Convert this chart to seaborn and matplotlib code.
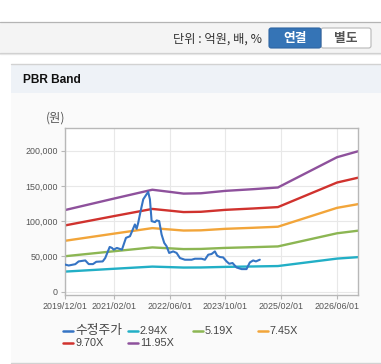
import matplotlib
matplotlib.use("Agg")
import matplotlib.pyplot as plt
import matplotlib.dates as mdates
from matplotlib.patches import Rectangle, FancyBboxPatch
from matplotlib.lines import Line2D
import seaborn as sns
import pandas as pd

# ---------------- data ----------------
band_dates = ["2019-12-01", "2021-02-01", "2022-01-01", "2022-06-01", "2022-10-01",
              "2023-03-01", "2023-10-01", "2024-06-01", "2025-01-01", "2026-06-01", "2026-12-01"]
band_294 = [28465, 32475, 35550, 34813, 34198, 34322, 35156, 35747, 36338, 46893, 48960]
band_519 = [50250, 57330, 62760, 61455, 60370, 60590, 62060, 63105, 64150, 82780, 86430]
band_745 = [72130, 82290, 90090, 88215, 86660, 86970, 89090, 90585, 92080, 118830, 124065]
band_970 = [93915, 107145, 117290, 114860, 112830, 113240, 115990, 117940, 119890, 154715, 161535]
band_1195 = [115700, 132000, 144500, 141500, 139000, 139500, 142900, 145300, 147700, 190600, 199000]

price_dates = ["2019-12-01", "2020-01-02", "2020-02-29", "2020-03-29", "2020-05-26", "2020-06-25",
               "2020-08-01", "2020-08-30", "2020-10-25", "2020-11-16", "2020-12-25", "2021-01-14",
               "2021-01-29", "2021-02-26", "2021-04-11", "2021-05-16", "2021-06-20", "2021-08-02",
               "2021-08-17", "2021-08-31", "2021-09-21", "2021-10-14", "2021-11-12", "2021-11-26",
               "2021-12-11", "2021-12-26", "2022-01-24", "2022-02-08", "2022-03-02", "2022-03-23",
               "2022-04-15", "2022-05-06", "2022-05-28", "2022-07-02", "2022-08-01", "2022-08-30",
               "2022-10-12", "2022-12-10", "2023-01-08", "2023-03-07", "2023-04-05", "2023-05-04",
               "2023-06-02", "2023-07-01", "2023-07-21", "2023-08-14", "2023-09-11", "2023-10-11",
               "2023-11-03", "2023-12-02", "2024-01-06", "2024-02-19", "2024-04-02", "2024-05-01",
               "2024-05-30", "2024-06-23", "2024-07-27"]
price = [38500, 37100, 39000, 42900, 44300, 39100,
         39100, 42400, 42900, 47700, 63400, 62000,
         59600, 62000, 59600, 76300, 78600, 95300,
         89100, 97700, 114300, 131000, 138100, 141400,
         131000, 100000, 98600, 101000, 100000, 81000,
         69100, 64300, 54900, 57100, 54900, 47700,
         45300, 45300, 46700, 46700, 45300, 52400,
         53400, 57100, 51000, 49100, 48600, 42900,
         39600, 40600, 34300, 32000, 32000, 41400,
         44300, 42900, 45300]

series_names = ["수정주가", "2.94X", "5.19X", "7.45X", "9.70X", "11.95X"]
series_colors = ["#3574c4", "#22afc6", "#8cb653", "#f2a53a", "#d0322e", "#8e519c"]
xtick_labels = ["2019/12/01", "2021/02/01", "2022/06/01", "2023/10/01", "2025/02/01", "2026/06/01"]
ytick_values = [0, 50000, 100000, 150000, 200000]

# ---------------- build table ----------------
frames = [pd.DataFrame({"date": pd.to_datetime(price_dates), "value": price, "series": series_names[0]})]
for name, vals in zip(series_names[1:], [band_294, band_519, band_745, band_970, band_1195]):
    frames.append(pd.DataFrame({"date": pd.to_datetime(band_dates), "value": vals, "series": name}))
df = pd.concat(frames, ignore_index=True)

sns.set_theme(style="white")
plt.rcParams["font.family"] = ["Liberation Sans", "Noto Sans CJK KR", "DejaVu Sans"]
KR = ["Noto Sans CJK KR", "DejaVu Sans"]

W, H = 381, 364
fig = plt.figure(figsize=(W / 100, H / 100), dpi=100)
fig.patch.set_facecolor("white")

def fx(x):
    return x / W

def fy(y):
    return 1 - y / H

def rect(x0, y0, x1, y1, **kw):
    fig.add_artist(Rectangle((fx(x0), fy(y1)), fx(x1) - fx(x0), fy(y0) - fy(y1),
                             transform=fig.transFigure, zorder=-10, **kw))

def hline(x0, x1, y, color, lw=1.0):
    fig.add_artist(Line2D([fx(x0), fx(x1)], [fy(y), fy(y)], transform=fig.transFigure,
                          color=color, lw=lw, zorder=-5))

# top toolbar
rect(0, 22, W, 53, facecolor="#f4f4f4", edgecolor="none")
hline(0, W, 22.3, "#b4b4b4", 0.9)
hline(0, W, 53, "#cfcfcf", 0.9)
hline(0, W, 54.2, "#e6e6e6", 0.9)
fig.text(fx(262), fy(39), "단위 : 억원, 배, %", ha="right", va="center",
         fontsize=8.8, color="#333333", family=KR)
fig.add_artist(FancyBboxPatch((fx(321), fy(48)), fx(371) - fx(321), fy(28) - fy(48),
                              boxstyle="round,pad=0,rounding_size=0.006", transform=fig.transFigure,
                              facecolor="white", edgecolor="#b8b8b8", lw=0.8))
fig.add_artist(FancyBboxPatch((fx(269), fy(48)), fx(321) - fx(269), fy(28) - fy(48),
                              boxstyle="round,pad=0,rounding_size=0.006", transform=fig.transFigure,
                              facecolor="#3574b6", edgecolor="#2e65a3", lw=0.8))
fig.text(fx(295), fy(38.5), "연결", ha="center", va="center", fontsize=9.2, fontweight="bold",
         color="white", family=KR)
fig.text(fx(346), fy(38.5), "별도", ha="center", va="center", fontsize=9.2, fontweight="bold",
         color="#555555", family=KR)

# panel
rect(11, 64, W, 93, facecolor="#eef2f7", edgecolor="none")
rect(11, 93, W, 363, facecolor="#fafafa", edgecolor="none")
hline(11, W, 64.3, "#d2d2d2", 1.0)
hline(11, W, 363, "#d2d2d2", 1.0)
fig.text(fx(23), fy(80), "PBR Band", ha="left", va="center", fontsize=8.6, fontweight="bold",
         color="#111111")
fig.text(fx(46), fy(118), "(원)", ha="left", va="center", fontsize=8.8, color="#555555",
         family=KR)

# chart axes
ax = fig.add_axes([fx(65), fy(295), fx(358) - fx(65), fy(128) - fy(295)])
ax.set_zorder(2)
ax.set_facecolor("white")
sns.lineplot(data=df, x="date", y="value", hue="series", hue_order=series_names,
             palette=dict(zip(series_names, series_colors)), estimator=None, sort=True,
             legend=False, ax=ax, linewidth=1.7)
for ln in ax.get_lines():
    if ln.get_color() == series_colors[0]:
        ln.set_linewidth(1.5)
        ln.set_zorder(5)

ax.set_xlim(pd.Timestamp("2019-12-01"), pd.Timestamp("2026-12-01"))
ax.set_ylim(-4700, 232000)
ax.set_xticks(pd.to_datetime([s.replace("/", "-") for s in xtick_labels]))
ax.set_xticklabels(xtick_labels)
ax.set_yticks(ytick_values)
ax.set_yticklabels([f"{v:,}" for v in ytick_values])
ax.set_xlabel("")
ax.set_ylabel("")
ax.grid(True, color="#e8e8e8", lw=0.8)
ax.set_axisbelow(True)
for s in ax.spines.values():
    s.set_color("#b8b8b8")
    s.set_linewidth(1.0)
ax.tick_params(axis="both", which="both", length=3, width=0.8, color="#b8b8b8",
               labelsize=6.4, labelcolor="#555555", pad=2.2)
ax.tick_params(axis="x", bottom=True, direction="out")
ax.tick_params(axis="y", left=True, direction="out")

# legend (fixed-grid layout like the original)
legend_pos = [(63, 330.7), (128, 330.7), (193, 330.7), (258, 330.7), (63, 343.3), (128, 343.3)]
for (lx, ly), name, col in zip(legend_pos, series_names, series_colors):
    fig.add_artist(Line2D([fx(lx), fx(lx + 10)], [fy(ly), fy(ly)], transform=fig.transFigure,
                          color=col, lw=1.8))
    is_kr = any("\uac00" <= c <= "\ud7a3" for c in name)
    fig.text(fx(lx + 12), fy(ly), name, ha="left", va="center",
             fontsize=9.2 if is_kr else 7.8, color="#444444",
             family=KR if is_kr else None)

fig.savefig("out.png", dpi=100)
